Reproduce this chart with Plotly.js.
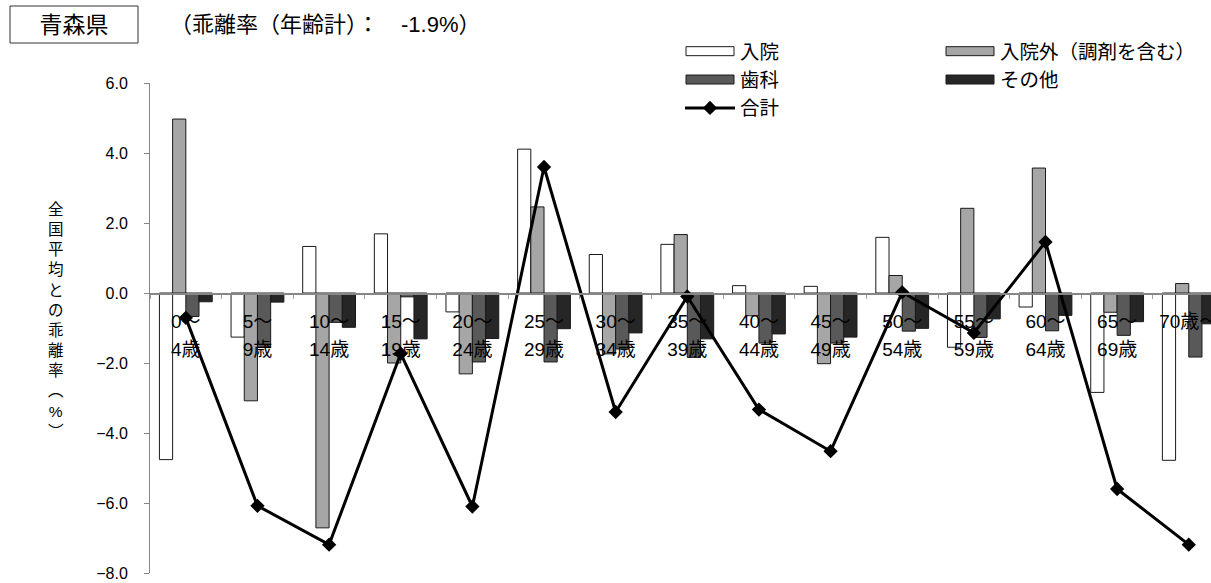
<!DOCTYPE html>
<html>
<head>
<meta charset="utf-8">
<script src="https://cdn.plot.ly/plotly-3.0.1.min.js"></script>
<style>
  html, body { margin: 0; padding: 0; background: #fff; }
  #chart { width: 1211px; height: 583px; }
</style>
</head>
<body>
<div id="chart"></div>
<script>
// ---- data ----
const ageGroups = ["0～4歳","5～9歳","10～14歳","15～19歳","20～24歳","25～29歳","30～34歳","35～39歳","40～44歳","45～49歳","50～54歳","55～59歳","60～64歳","65～69歳","70歳～"];
const tickTop = ["0～","5～","10～","15～","20～","25～","30～","35～","40～","45～","50～","55～","60～","65～","70歳～"];
const tickBottom = ["4歳","9歳","14歳","19歳","24歳","29歳","34歳","39歳","44歳","49歳","54歳","59歳","64歳","69歳",""];

const inpatient   = [-4.76, -1.26,  1.33,  1.69, -0.54,  4.11,  1.10,  1.39,  0.21,  0.19,  1.59, -1.55, -0.40, -2.84, -4.78];
const outpatient  = [ 4.97, -3.08, -6.71, -2.00, -2.31,  2.46, -1.74,  1.67, -0.65, -2.02,  0.50,  2.42,  3.57, -0.55,  0.27];
const dental      = [-0.67, -1.55, -0.84, -0.11, -1.97, -1.97, -1.60, -1.84, -1.43, -1.43, -1.09, -1.27, -1.08, -1.21, -1.83];
const other       = [-0.25, -0.26, -0.98, -1.31, -1.30, -1.02, -1.14, -1.31, -1.17, -1.26, -1.01, -0.74, -0.64, -0.82, -0.88];
const total       = [-0.71, -6.08, -7.19, -1.73, -6.10,  3.60, -3.40, -0.10, -3.33, -4.52,  0.02, -1.14,  1.46, -5.60, -7.19];

const seriesNames = ["入院", "入院外（調剤を含む）", "歯科", "その他", "合計"];
const yTicks = [-8, -6, -4, -2, 0, 2, 4, 6];

const FONT = '"Liberation Sans", Arial, "Noto Sans CJK JP", sans-serif';
const outline = { color: '#1a1a1a', width: 1 };

const traces = [
  { type: 'bar', name: seriesNames[0], x: ageGroups, y: inpatient,  marker: { color: '#ffffff', line: outline }, legend: 'legend' },
  { type: 'bar', name: seriesNames[1], x: ageGroups, y: outpatient, marker: { color: '#a6a6a6', line: outline }, legend: 'legend2' },
  { type: 'bar', name: seriesNames[2], x: ageGroups, y: dental,     marker: { color: '#595959', line: outline }, legend: 'legend' },
  { type: 'bar', name: seriesNames[3], x: ageGroups, y: other,      marker: { color: '#262626', line: outline }, legend: 'legend2' },
  { type: 'scatter', mode: 'lines+markers', name: seriesNames[4], x: ageGroups, y: total, xaxis: 'x2', yaxis: 'y2',
    line: { color: '#000000', width: 3 }, marker: { symbol: 'diamond', size: 11, color: '#000000' }, legend: 'legend', cliponaxis: false }
];

const L = 150, R = 0, T = 83, B = 10, W = 1211, H = 583;
const plotW = W - L - R, plotH = H - T - B;
const catW = 71.64;
const xRange = [-0.5, -0.5 + plotW / catW];
const yRange = [-8, 6];
const px2x = px => (px - L) / plotW;
const py2y = py => (H - B - py) / plotH;

const vTitle = "全国平均との乖離率︵%︶".split('').join('<br>');

const layout = {
  width: W, height: H,
  margin: { l: L, r: R, t: T, b: B, autoexpand: false },
  paper_bgcolor: '#ffffff', plot_bgcolor: 'rgba(0,0,0,0)',
  font: { family: FONT, color: '#000000', size: 16 },
  barmode: 'group', bargap: 0.263, bargroupgap: 0,
  showlegend: true,
  title: { text: '青森県', font: { size: 23, family: FONT }, xref: 'container', yref: 'container',
           x: 74 / W, xanchor: 'center', y: 1 - 25 / H, yanchor: 'middle' },
  xaxis: {
    type: 'category', categoryorder: 'array', categoryarray: ageGroups,
    range: xRange, anchor: 'free', position: 8 / 14,
    showline: true, linecolor: '#868686', linewidth: 1.5,
    ticks: 'outside', tickson: 'boundaries', ticklen: 4, tickcolor: '#a0a0a0', tickwidth: 1,
    tickvals: ageGroups, ticktext: tickTop, tickangle: 0,
    ticklabelstandoff: 11,
    tickfont: { size: 19, family: FONT }, showgrid: false, zeroline: false, fixedrange: true
  },
  xaxis2: {
    type: 'category', categoryorder: 'array', categoryarray: ageGroups,
    range: xRange, overlaying: 'x', anchor: 'free', position: 8 / 14, side: 'bottom',
    showline: false, ticks: '', tickvals: ageGroups, ticktext: tickBottom, tickangle: 0,
    ticklabelstandoff: 43,
    tickfont: { size: 19, family: FONT }, showgrid: false, zeroline: false, fixedrange: true
  },
  yaxis: {
    range: yRange, tickvals: yTicks, tickformat: '.1f',
    showline: false, ticks: 'outside', ticklen: 18, tickcolor: 'rgba(0,0,0,0)',
    tickfont: { size: 16, family: FONT }, showgrid: false, zeroline: false, fixedrange: true
  },
  yaxis2: {
    range: yRange, tickvals: yTicks, overlaying: 'y', anchor: 'x', side: 'left',
    showticklabels: false, showline: true, linecolor: '#868686', linewidth: 1.5,
    ticks: 'outside', ticklen: 5, tickcolor: '#868686',
    showgrid: false, zeroline: false, fixedrange: true
  },
  legend: {
    x: px2x(680), y: py2y(32), xanchor: 'left', yanchor: 'top', orientation: 'v',
    font: { size: 19.5, family: FONT }, itemwidth: 50, bgcolor: 'rgba(0,0,0,0)', traceorder: 'normal'
  },
  legend2: {
    x: px2x(940), y: py2y(32), xanchor: 'left', yanchor: 'top', orientation: 'v',
    font: { size: 19.5, family: FONT }, itemwidth: 50, bgcolor: 'rgba(0,0,0,0)', traceorder: 'normal'
  },
  shapes: [
    { type: 'rect', xref: 'paper', yref: 'paper', x0: px2x(10), x1: px2x(138), y0: py2y(43), y1: py2y(6),
      line: { color: '#333333', width: 1 }, fillcolor: 'rgba(0,0,0,0)' }
  ],
  annotations: [
    { text: '（乖離率（年齢計）：　-1.9%）', xref: 'paper', yref: 'paper', x: px2x(168), y: py2y(25),
      xanchor: 'left', yanchor: 'middle', showarrow: false, font: { size: 22, family: FONT } },
    { text: vTitle, xref: 'paper', yref: 'paper', x: px2x(56), y: py2y(320),
      xanchor: 'center', yanchor: 'middle', showarrow: false, align: 'center', font: { size: 15.5, family: FONT } }
  ]
};

Plotly.newPlot('chart', traces, layout, { staticPlot: true, displayModeBar: false }).then(gd => {
  gd.querySelectorAll('g.legendpoints path').forEach(p => {
    const d = p.getAttribute('d') || '';
    if (/^M6,6H-6V-6H6Z$/.test(d.replace(/\s/g, ''))) {
      p.setAttribute('d', 'M-24,4.5H24V-4.5H-24Z');
    }
  });
});
</script>
</body>
</html>
